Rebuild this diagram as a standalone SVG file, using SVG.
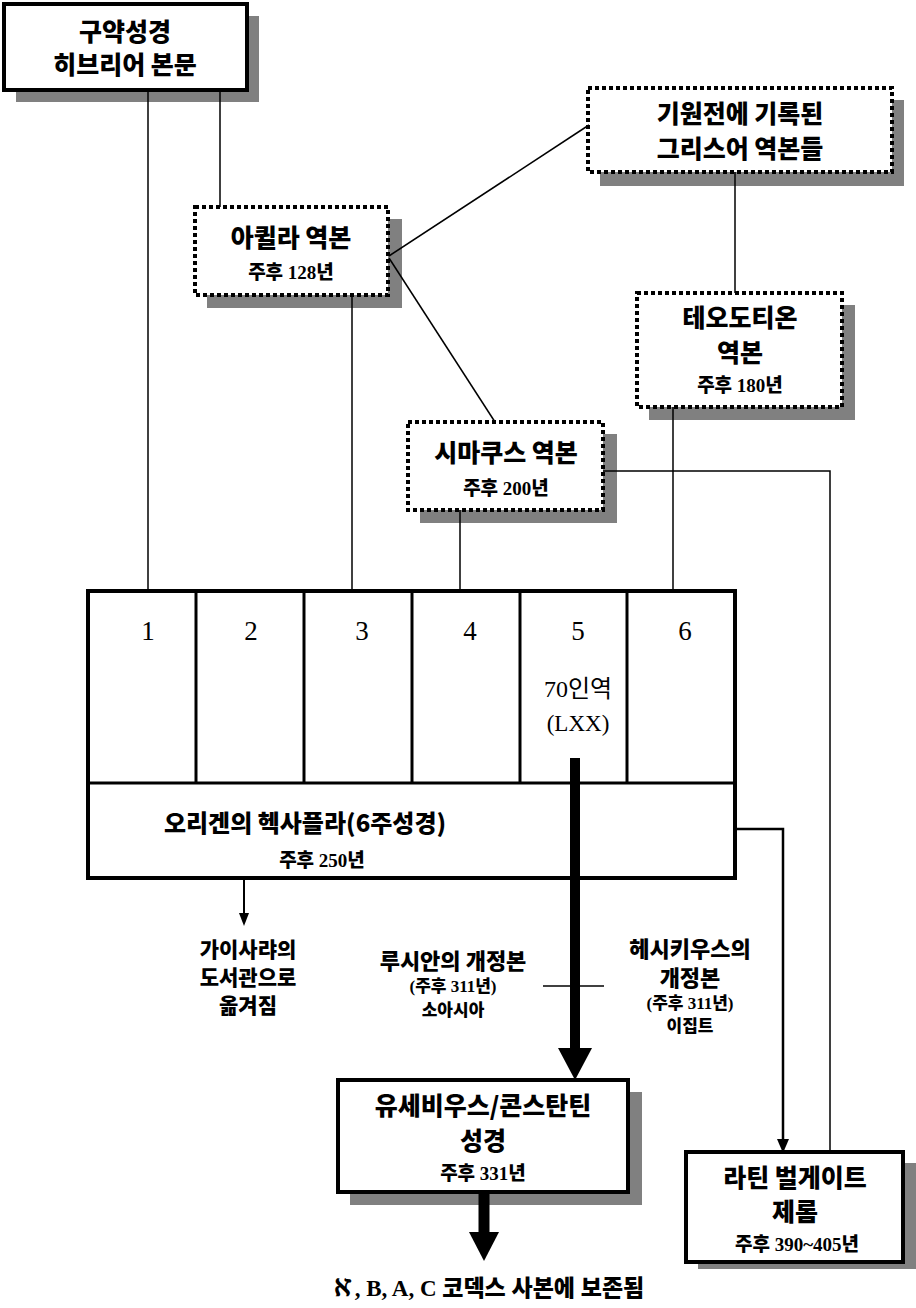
<svg xmlns="http://www.w3.org/2000/svg" width="916" height="1308" viewBox="0 0 916 1308">
<defs>
<style>
.sh{fill:#808080}
.bx{fill:#fff;stroke:#000;stroke-width:4}
.dt{stroke-dasharray:4 3}
.t{font-family:"Liberation Serif","Noto Sans CJK KR",serif;font-weight:900;text-anchor:middle;fill:#000}
.k{font-family:"Noto Sans CJK KR","Liberation Sans",sans-serif;font-weight:900;text-anchor:middle;fill:#000}
.n{font-family:"Liberation Serif","Noto Sans CJK KR",serif;font-weight:400;text-anchor:middle;fill:#000}
.f25{font-size:25px}
.f22{font-size:22px}
.f21{font-size:21px}
.f19{font-size:19px}
.f17{font-size:17px}
.ln{stroke:#000;stroke-width:1.5;fill:none}
.dv{stroke:#000;stroke-width:3;fill:none}
</style>
</defs>

<g id="hebrew">
<rect class="sh" x="16" y="16" width="243" height="86"/>
<rect class="bx" x="4" y="4" width="243" height="86"/>
<text class="k f25" x="125" y="41">구약성경</text>
<text class="k f25" x="125" y="74">히브리어 본문</text>
</g>

<g id="greek">
<rect class="sh" x="600" y="100" width="304" height="86"/>
<rect class="bx dt" x="588" y="88" width="304" height="84"/>
<text class="k f25" x="740" y="123">기원전에 기록된</text>
<text class="k f25" x="740" y="158">그리스어 역본들</text>
</g>

<g id="aquila">
<rect class="sh" x="207" y="219" width="195" height="89"/>
<rect class="bx dt" x="195" y="207" width="193" height="88"/>
<text class="k f25" x="291" y="247">아퀼라 역본</text>
<text class="t f19" x="291" y="279">주후 128년</text>
</g>

<g id="theodotion">
<rect class="sh" x="649" y="305" width="206" height="115"/>
<rect class="bx dt" x="637" y="293" width="205" height="114"/>
<text class="k f25" x="740" y="327">테오도티온</text>
<text class="k f25" x="740" y="362">역본</text>
<text class="t f19" x="740" y="392">주후 180년</text>
</g>

<g id="symmachus">
<rect class="sh" x="420" y="434" width="197" height="89"/>
<rect class="bx dt" x="408" y="422" width="195" height="88"/>
<text class="k f25" x="506" y="462">시마쿠스 역본</text>
<text class="t f19" x="506" y="495">주후 200년</text>
</g>

<g id="hexapla">
<rect class="bx" x="88" y="591" width="647" height="287"/>
<line class="dv" x1="88" y1="783" x2="735" y2="783"/>
<line class="dv" x1="196" y1="591" x2="196" y2="783"/>
<line class="dv" x1="304" y1="591" x2="304" y2="783"/>
<line class="dv" x1="412" y1="591" x2="412" y2="783"/>
<line class="dv" x1="520" y1="591" x2="520" y2="783"/>
<line class="dv" x1="627" y1="591" x2="627" y2="783"/>
<text class="n" font-size="27" x="148" y="640">1</text>
<text class="n" font-size="27" x="251" y="640">2</text>
<text class="n" font-size="27" x="362" y="640">3</text>
<text class="n" font-size="27" x="470" y="640">4</text>
<text class="n" font-size="27" x="578" y="640">5</text>
<text class="n" font-size="27" x="685" y="640">6</text>
<text class="n" font-size="24" x="578" y="697">70인역</text>
<text class="n" font-size="23" x="578" y="731">(LXX)</text>
<text class="k" font-size="24" x="305" y="832">오리겐의 헥사플라(6주성경)</text>
<text class="t f19" x="322" y="867">주후 250년</text>
</g>

<g id="caesarea">
<text class="k f21" x="248" y="957">가이사랴의</text>
<text class="k f21" x="248" y="985">도서관으로</text>
<text class="k f21" x="248" y="1013">옮겨짐</text>
</g>

<g id="lucian">
<text class="k f22" x="453" y="969">루시안의 개정본</text>
<text class="t f17" x="453" y="992">(주후 311년)</text>
<text class="k f17" x="453" y="1016">소아시아</text>
</g>

<g id="hesychius">
<text class="k f22" x="690" y="957">헤시키우스의</text>
<text class="k f22" x="690" y="986">개정본</text>
<text class="t f17" x="690" y="1009">(주후 311년)</text>
<text class="k f17" x="690" y="1032">이집트</text>
</g>

<g id="eusebius">
<rect class="sh" x="350" y="1092" width="292" height="113"/>
<rect class="bx" x="338" y="1080" width="290" height="112"/>
<text class="k f25" x="483" y="1115">유세비우스/콘스탄틴</text>
<text class="k f25" x="483" y="1150">성경</text>
<text class="t f19" x="483" y="1180">주후 331년</text>
</g>

<g id="vulgate">
<rect class="sh" x="698" y="1163" width="218" height="106"/>
<rect class="bx" x="686" y="1152" width="217" height="110"/>
<text class="k f25" x="795" y="1187">라틴 벌게이트</text>
<text class="k f25" x="795" y="1221">제롬</text>
<text class="t f19" x="797" y="1251">주후 390~405년</text>
</g>

<g id="codices">
<text class="t" font-size="23" x="488" y="1296">ℵ, B, A, C 코덱스 사본에 보존됨</text>
</g>

<g id="connectors">
<line class="ln" x1="148" y1="90" x2="148" y2="591"/>
<line class="ln" x1="220" y1="90" x2="220" y2="207"/>
<line class="ln" x1="389" y1="256" x2="589" y2="125"/>
<line class="ln" x1="389" y1="258" x2="495" y2="422"/>
<line class="ln" x1="352" y1="295" x2="352" y2="591"/>
<line class="ln" x1="735" y1="172" x2="735" y2="293"/>
<line class="ln" x1="673" y1="407" x2="673" y2="591"/>
<line class="ln" x1="460" y1="510" x2="460" y2="591"/>
<polyline class="ln" points="603,471 830,471 830,1152"/>
<polyline points="735,829 783,829 783,1141" fill="none" stroke="#000" stroke-width="2.5"/>
<polygon points="777,1139 789,1139 783,1153"/>
<line x1="244" y1="878" x2="244" y2="915" stroke="#000" stroke-width="2"/>
<polygon points="239,913 249,913 244,926"/>
<line x1="575" y1="758" x2="575" y2="1050" stroke="#000" stroke-width="10"/>
<polygon points="558,1048 592,1048 575,1080"/>
<line class="ln" x1="543" y1="986" x2="604" y2="986"/>
<line x1="484" y1="1192" x2="484" y2="1234" stroke="#000" stroke-width="11"/>
<polygon points="469,1232 499,1232 484,1261"/>
</g>
</svg>
